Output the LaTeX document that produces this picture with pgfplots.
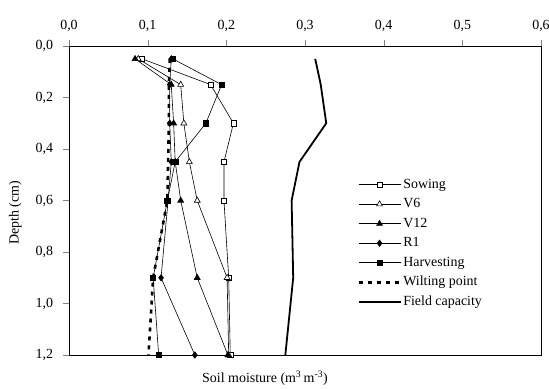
\documentclass[border=0pt]{standalone}
\usepackage{pgfplots}
\pgfplotsset{compat=1.18}
\usepackage{fontspec}
\setmainfont{Liberation Serif}
\begin{document}
\fontsize{14}{16}\selectfont
\begin{tikzpicture}
\begin{axis}[
  scale only axis,
  width=472bp, height=309bp,
  xmin=0, xmax=0.6, ymin=0, ymax=1.2,
  y dir=reverse,
  xtick={0,0.1,0.2,0.3,0.4,0.5,0.6},
  ytick={0,0.2,0.4,0.6,0.8,1.0,1.2},
  xtick pos=upper, xticklabel pos=upper,
  ytick pos=left,
  tick align=outside,
  major tick length=6bp,
  /pgf/number format/assume math mode=true,
  /pgf/number format/use comma,
  /pgf/number format/fixed,
  /pgf/number format/fixed zerofill,
  /pgf/number format/precision=1,
  tick label style={font=\fontsize{14}{16}\selectfont},
  xticklabel style={yshift=4bp},
  yticklabel style={xshift=-5bp},
  xlabel={Soil moisture (m\textsuperscript{3}\,m\textsuperscript{-3})},
  xlabel style={at={(axis description cs:0.272,-0.074)}, anchor=west},
  ylabel={Depth (cm)},
  ylabel style={at={(axis description cs:-0.114,0.46)}, anchor=center},
  axis line style={line width=0.6pt},
  legend style={draw=none, fill=none, at={(axis description cs:0.604,0.584)}, anchor=north west,
    font=\fontsize{14}{16}\selectfont,
    nodes={text height=10bp, text depth=3bp, inner sep=1.5bp}, row sep=3.5bp},
  legend cell align=left,
  legend image code/.code={\draw[mark repeat=2,mark phase=2,#1] plot coordinates {(0cm,0cm)(0.74cm,0cm)(1.48cm,0cm)};},
]
\addplot[black, line width=0.6pt, mark=square*, mark options={fill=white, line width=0.6pt}, mark size=2.6bp] coordinates {
(0.093,0.05)(0.180,0.15)(0.209,0.30)(0.197,0.45)(0.197,0.60)(0.203,0.90)(0.205,1.20)};
\addlegendentry{Sowing}
\addplot[black, line width=0.6pt, mark=triangle*, mark options={fill=white, line width=0.6pt}, mark size=3.4bp] coordinates {
(0.088,0.05)(0.142,0.15)(0.146,0.30)(0.153,0.45)(0.163,0.60)(0.201,0.90)(0.203,1.20)};
\addlegendentry{V6}
\addplot[black, line width=0.6pt, mark=triangle*, mark options={fill=black}, mark size=3.4bp] coordinates {
(0.084,0.05)(0.130,0.15)(0.133,0.30)(0.135,0.45)(0.142,0.60)(0.163,0.90)(0.202,1.20)};
\addlegendentry{V12}
\addplot[black, line width=0.6pt, mark=diamond*, mark options={fill=black}, mark size=3.2bp] coordinates {
(0.130,0.05)(0.128,0.15)(0.128,0.30)(0.130,0.45)(0.126,0.60)(0.117,0.90)(0.160,1.20)};
\addlegendentry{R1}
\addplot[black, line width=0.6pt, mark=square*, mark options={fill=black}, mark size=2.6bp] coordinates {
(0.132,0.05)(0.194,0.15)(0.174,0.30)(0.135,0.45)(0.125,0.60)(0.107,0.90)(0.114,1.20)};
\addlegendentry{Harvesting}
\addplot[black, no marks, line width=2.6pt, dash pattern=on 4bp off 5bp] coordinates {
(0.128,0.05)(0.127,0.15)(0.127,0.30)(0.126,0.45)(0.125,0.60)(0.107,0.90)(0.101,1.20)};
\addlegendentry{Wilting point}
\addplot[black, no marks, line width=1.8pt] coordinates {
(0.313,0.05)(0.320,0.15)(0.327,0.30)(0.293,0.45)(0.283,0.60)(0.285,0.90)(0.275,1.20)};
\addlegendentry{Field capacity}
\end{axis}
\pgfresetboundingbox
\useasboundingbox (current axis.south west) ++(-69bp,-34bp) rectangle ++(549bp,389bp);
\end{tikzpicture}
\end{document}
